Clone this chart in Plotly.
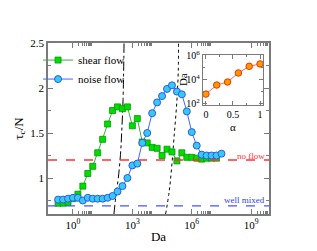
import plotly.graph_objects as go

# ---------------- data ----------------
shear_logDa = [-0.75, -0.5, -0.25, 0.0, 0.25, 0.5, 0.75, 1.0, 1.25, 1.5, 1.75, 2.0, 2.25, 2.5,
               2.75, 3.0, 3.25, 3.5, 3.75, 4.0, 4.25, 4.5, 4.75, 5.0, 5.25, 5.5, 5.75, 6.0,
               6.25, 6.5, 6.75, 7.0, 7.25]
shear_tau = [0.72, 0.72, 0.73, 0.77, 0.82, 0.91, 1.05, 1.13, 1.28, 1.43, 1.60, 1.75, 1.79, 1.77,
             1.79, 1.58, 1.66, 1.40, 1.39, 1.34, 1.33, 1.25, 1.32, 1.29, 1.19, 1.28, 1.23, 1.23,
             1.22, 1.21, 1.22, 1.22, 1.22]

noise_logDa = [-0.75, -0.5, -0.25, 0.0, 0.25, 0.5, 0.75, 1.0, 1.25, 1.5, 1.75, 2.0, 2.25, 2.5,
               2.75, 3.0, 3.25, 3.5, 3.75, 4.0, 4.25, 4.5, 4.75, 5.0, 5.25, 5.5, 5.75, 6.0,
               6.25, 6.5, 6.75, 7.0, 7.25, 7.5]
noise_tau = [0.76, 0.76, 0.77, 0.78, 0.78, 0.75, 0.78, 0.77, 0.77, 0.77, 0.78, 0.80, 0.85, 0.91,
             1.00, 1.14, 1.16, 1.39, 1.50, 1.72, 1.84, 1.91, 1.99, 2.03, 1.96, 1.93, 1.74, 1.51,
             1.36, 1.26, 1.25, 1.25, 1.25, 1.27]

# reference curves
dashdot_logDa = [2.07, 2.17, 2.29, 2.40, 2.46, 2.53, 2.58]
dashdot_tau = [0.60, 0.80, 1.00, 1.26, 1.50, 1.87, 2.50]
dotted_logDa = [4.68, 4.86, 4.98, 5.10, 5.24, 5.32, 5.33]
dotted_tau = [0.60, 0.85, 1.11, 1.44, 1.83, 2.20, 2.50]

no_flow_level = 1.2
well_mixed_level = 0.69

# inset
alpha = [0.0, 0.2, 0.4, 0.6, 0.8, 1.0]
inset_logDa = [2.81, 3.56, 3.81, 4.56, 5.11, 5.31]

x_tick_exp = [0, 3, 6, 9]

# ---------------- figure ----------------
font_family = "Times New Roman, Liberation Serif, serif"
frame = "#7a7a7a"

to_lin = lambda lst: [10 ** v for v in lst]

fig = go.Figure()

# horizontal reference lines
fig.add_hline(y=no_flow_level, line=dict(color="#ff3333", width=1.3, dash="dash"))
fig.add_hline(y=well_mixed_level, line=dict(color="#4455ff", width=1.3, dash="dash"))

fig.add_trace(go.Scatter(x=to_lin(dashdot_logDa), y=dashdot_tau, mode="lines",
                         line=dict(color="black", width=1, dash="dashdot", shape="spline"),
                         showlegend=False, hoverinfo="skip"))
fig.add_trace(go.Scatter(x=to_lin(dotted_logDa), y=dotted_tau, mode="lines",
                         line=dict(color="black", width=1, dash="dot", shape="spline"),
                         showlegend=False, hoverinfo="skip"))

fig.add_trace(go.Scatter(x=to_lin(shear_logDa), y=shear_tau, mode="lines+markers",
                         name="shear flow",
                         line=dict(color="#44aa44", width=1),
                         marker=dict(symbol="square", size=6, color="#00dd00",
                                     line=dict(color="#009900", width=0.8))))
fig.add_trace(go.Scatter(x=to_lin(noise_logDa), y=noise_tau, mode="lines+markers",
                         name="noise flow",
                         line=dict(color="#4466ff", width=1),
                         marker=dict(symbol="circle", size=7, color="#33ccee",
                                     line=dict(color="#3355ee", width=1))))

# inset
fig.add_trace(go.Scatter(x=alpha, y=to_lin(inset_logDa), mode="lines+markers",
                         xaxis="x2", yaxis="y2", showlegend=False,
                         line=dict(color="#ff6666", width=1),
                         marker=dict(symbol="circle", size=6.5, color="#ff9900",
                                     line=dict(color="#ee3300", width=1))))

minor_x = [k * 10 ** e for e in x_tick_exp for k in range(2, 10)]

fig.update_layout(
    width=317, height=251,
    margin=dict(l=48, r=48, t=43, b=37, autoexpand=False),
    paper_bgcolor="white", plot_bgcolor="white",
    font=dict(family=font_family, size=11, color="black"),
    showlegend=True,
    legend=dict(x=-0.045, y=0.985, xanchor="left", yanchor="top",
                bgcolor="rgba(0,0,0,0)", font=dict(size=11, family=font_family),
                itemwidth=30, tracegroupgap=0),
    xaxis=dict(type="log", range=[-1.26, 9.9], automargin=False,
               tickmode="array", tickvals=[10 ** e for e in x_tick_exp],
               ticktext=["10<sup>%d</sup>" % e for e in x_tick_exp],
               ticks="inside", ticklen=5, tickwidth=1, tickcolor=frame,
               minor=dict(tickmode="array", tickvals=minor_x, ticks="inside",
                          ticklen=3, tickcolor=frame, showgrid=False),
               showline=True, linecolor=frame, linewidth=1.5, mirror="ticks",
               showgrid=False, zeroline=False,
               title=dict(text="Da", font=dict(size=13, family=font_family), standoff=2),
               tickfont=dict(size=11, family=font_family)),
    yaxis=dict(range=[0.6, 2.5], tickmode="array", tickvals=[1, 1.5, 2, 2.5],
               ticktext=["1", "1.5", "2", "2.5"], automargin=False,
               ticks="inside", ticklen=5, tickwidth=1, tickcolor=frame,
               minor=dict(dtick=0.25, tick0=0, ticks="inside", ticklen=3, tickcolor=frame,
                          showgrid=False),
               showline=True, linecolor=frame, linewidth=1.5, mirror="ticks",
               showgrid=False, zeroline=False,
               title=dict(text="τ<sub>c</sub>/N", font=dict(size=13, family=font_family),
                          standoff=4),
               tickfont=dict(size=11, family=font_family)),
    xaxis2=dict(domain=[0.701, 0.973], anchor="y2", range=[-0.055, 1.055],
                tickmode="array", tickvals=[0, 0.5, 1], ticktext=["0", "0.5", "1"],
                ticks="inside", ticklen=4, tickcolor=frame, automargin=False,
                minor=dict(dtick=0.25, tick0=0, ticks="inside", ticklen=2, tickcolor=frame),
                showline=True, linecolor=frame, linewidth=1.2, mirror="ticks",
                showgrid=False, zeroline=False,
                tickfont=dict(size=10, family=font_family)),
    yaxis2=dict(domain=[0.637, 0.930], anchor="x2", type="log", range=[1.9, 6.05],
                tickmode="array", tickvals=[1e2, 1e4, 1e6], automargin=False,
                ticktext=["10<sup>2</sup>", "10<sup>4</sup>", "10<sup>6</sup>"],
                ticks="inside", ticklen=4, tickcolor=frame,
                minor=dict(tickmode="array", tickvals=[1e3, 1e5], ticks="inside",
                           ticklen=2, tickcolor=frame),
                showline=True, linecolor=frame, linewidth=1.2, mirror="ticks",
                showgrid=False, zeroline=False,
                tickfont=dict(size=10, family=font_family)),
)

# inset axis titles
fig.add_annotation(text="α", x=0.5, xref="x2 domain", y=-0.44, yref="y2 domain",
                   xanchor="center", yanchor="middle", showarrow=False,
                   font=dict(size=11, family=font_family))
fig.add_annotation(text="Da", x=-0.33, xref="x2 domain", y=0.5, yref="y2 domain",
                   xanchor="center", yanchor="middle", showarrow=False, textangle=-90,
                   font=dict(size=11, family=font_family))

fig.add_annotation(text="no flow", x=0.992, y=1.25, xref="paper", yref="y",
                   xanchor="right", yanchor="middle", showarrow=False,
                   font=dict(size=9, color="#ff3333", family=font_family))
fig.add_annotation(text="well mixed", x=0.992, y=0.755, xref="paper", yref="y",
                   xanchor="right", yanchor="middle", showarrow=False,
                   font=dict(size=9, color="#3344ee", family=font_family))

fig.write_html("out.html", config={"displayModeBar": False},
               post_script="document.body.style.margin='0';document.body.style.overflow='hidden';")
